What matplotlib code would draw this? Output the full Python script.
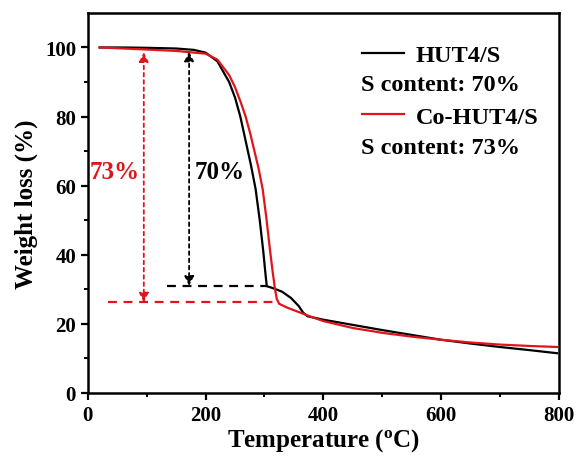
import numpy as np
from matplotlib import pyplot as plt
from matplotlib.lines import Line2D

plt.rcParams['font.family'] = ['Liberation Serif', 'DejaVu Serif']
plt.rcParams['font.weight'] = 'bold'
plt.rcParams['mathtext.fontset'] = 'custom'
plt.rcParams['mathtext.rm'] = 'Liberation Serif'
plt.rcParams['mathtext.bf'] = 'Liberation Serif:bold'

# HUT4/S
t_hut = [20, 60, 100, 150, 180, 200, 220, 240, 250, 259, 268, 277, 285, 292, 298, 302,
         304, 315, 330, 345, 358, 366, 373, 400, 450, 500, 550, 600, 650, 700, 750, 797]
w_hut = [100, 100, 99.9, 99.7, 99.3, 98.5, 96, 90, 85.5, 80, 73, 66, 59, 50, 41, 34,
         30.9, 30.3, 29.3, 27.5, 25.2, 23.2, 22.2, 21.2, 19.7, 18.2, 16.8, 15.4, 14.3, 13.3, 12.4, 11.5]

# Co-HUT4/S
t_co = [20, 60, 100, 150, 200, 220, 240, 250, 260, 268, 276, 283, 290, 297, 303, 309,
        314, 318, 321, 325, 340, 360, 380, 400, 450, 500, 550, 600, 650, 700, 750, 797]
w_co = [100, 99.7, 99.4, 99, 98.2, 96.5, 92, 88.5, 84, 80, 75, 70, 65, 59, 51, 42,
        35, 30, 27.2, 25.8, 24.6, 23.3, 22, 20.8, 18.8, 17.4, 16.3, 15.4, 14.6, 14, 13.6, 13.3]

# annotation levels
red_x, red_top, red_bot = 95, 98.6, 26.2
blk_x, blk_top, blk_bot = 172, 98.8, 31.0
red_h = [34, 322]
blk_h = [135, 305]

fig = plt.figure(figsize=(5.82, 4.64), dpi=100)
ax = fig.add_axes([0.151, 0.151, 0.809, 0.819])

ax.plot(t_hut, w_hut, color='black', lw=1.6)
ax.plot(t_co, w_co, color='#e0151b', lw=1.6)

# dashed horizontal guides
ax.plot(red_h, [red_bot, red_bot], color='#e0151b', lw=1.6, ls=(0, (4, 3)))
ax.plot(blk_h, [blk_bot, blk_bot], color='black', lw=1.6, ls=(0, (4, 3)))

# double arrows
ax.annotate('', xy=(red_x, red_top), xytext=(red_x, red_bot),
            arrowprops=dict(arrowstyle='<|-|>', color='#e0151b', lw=1.3, ls=(0, (2, 2)),
                            mutation_scale=14, shrinkA=0, shrinkB=0))
ax.annotate('', xy=(blk_x, blk_top), xytext=(blk_x, blk_bot),
            arrowprops=dict(arrowstyle='<|-|>', color='black', lw=1.3, ls=(0, (2, 2)),
                            mutation_scale=14, shrinkA=0, shrinkB=0))

ax.text(88, 64, '73%', color='#e0151b', fontsize=18, fontweight='bold', ha='right', va='center')
ax.text(181, 64, '70%', color='black', fontsize=18, fontweight='bold', ha='left', va='center')

# legend
handles = [Line2D([], [], color='black', lw=1.6), Line2D([], [], color='#e0151b', lw=1.6)]
ax.legend(handles, ['HUT4/S', 'Co-HUT4/S'], loc='upper left', bbox_to_anchor=(0.582, 0.918),
          frameon=False, handlelength=1.75, handletextpad=0.45, labelspacing=1.63,
          borderaxespad=0, borderpad=0, prop={'weight': 'bold', 'size': 17.5})
ax.text(0.581, 0.811, 'S content: 70%', transform=ax.transAxes, fontsize=17.5, fontweight='bold', va='center')
ax.text(0.581, 0.647, 'S content: 73%', transform=ax.transAxes, fontsize=17.5, fontweight='bold', va='center')

ax.set_xlim(0, 800)
ax.set_ylim(0, 110)
ax.set_xticks([0, 200, 400, 600, 800])
ax.set_xticks([100, 300, 500, 700], minor=True)
ax.set_yticks([0, 20, 40, 60, 80, 100])
ax.set_yticks([10, 30, 50, 70, 90], minor=True)
ax.tick_params(which='major', direction='out', length=5, width=1.6, labelsize=15)
ax.tick_params(which='minor', direction='out', length=3, width=1.4)
for lab in ax.get_xticklabels() + ax.get_yticklabels():
    lab.set_fontweight('bold')
for s in ax.spines.values():
    s.set_linewidth(1.8)

ax.set_xlabel('Temperature ($\\mathbf{^{o}}$C)', fontsize=18, fontweight='bold', labelpad=1)
ax.set_ylabel('Weight loss (%)', fontsize=18, fontweight='bold', labelpad=5)

fig.savefig('out.png', dpi=100)
